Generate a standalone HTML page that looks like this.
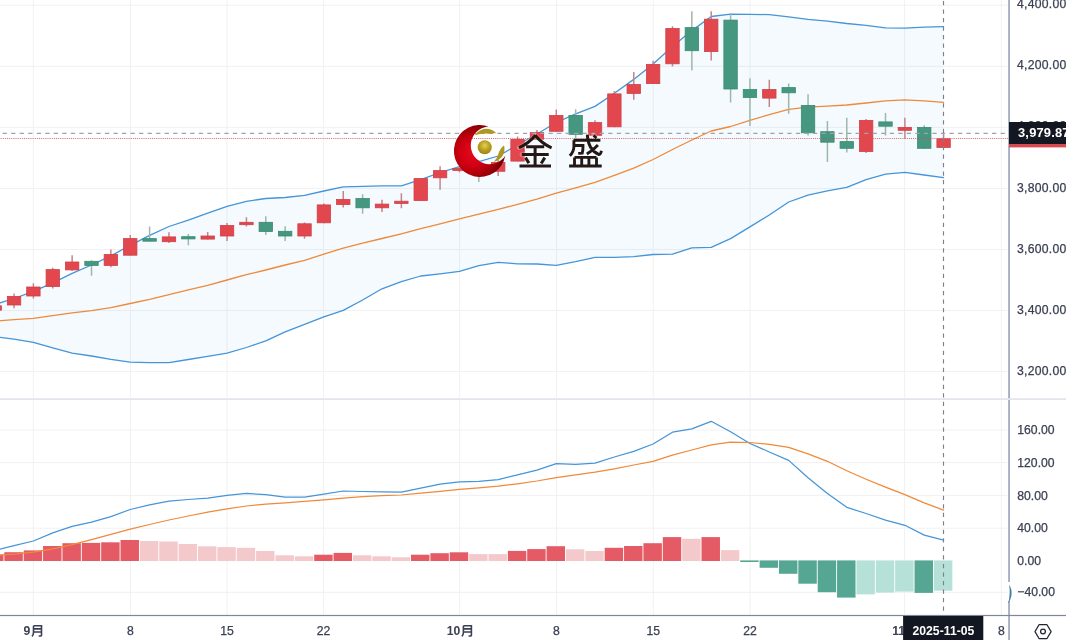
<!DOCTYPE html><html><head><meta charset="utf-8"><style>html,body{margin:0;padding:0;background:#fff;width:1066px;height:640px;overflow:hidden}#w{position:absolute;left:0;top:0;width:1066px;height:640px;overflow:hidden;background:#fff}</style></head><body><div id="w"><svg width="1082" height="656" viewBox="-8 -8 1082 656" style="display:block;position:absolute;left:-8px;top:-8px;filter:blur(0.55px)">
<defs><clipPath id="cm"><rect x="-8" y="-8" width="1016" height="406.3"/></clipPath><clipPath id="cl"><rect x="-8" y="400" width="1016" height="215"/></clipPath>
<radialGradient id="rg" gradientUnits="userSpaceOnUse" cx="473" cy="153" r="30"><stop offset="0" stop-color="#e60a1c"/><stop offset="0.45" stop-color="#cf0012"/><stop offset="0.8" stop-color="#a00008"/><stop offset="1" stop-color="#7a0005"/></radialGradient>
<radialGradient id="gg" cx="0.5" cy="0.38" r="0.62"><stop offset="0" stop-color="#e6d24c"/><stop offset="0.55" stop-color="#b9a022"/><stop offset="1" stop-color="#9a8418"/></radialGradient>
</defs>
<rect x="-8" y="-8" width="1082" height="656" fill="#fff"/>
<g stroke="#f1f1f3" stroke-width="1" shape-rendering="auto">
<path d="M33.4 -8V398M33.4 400V615"/>
<path d="M130.4 -8V398M130.4 400V615"/>
<path d="M227 -8V398M227 400V615"/>
<path d="M323.6 -8V398M323.6 400V615"/>
<path d="M459.7 -8V398M459.7 400V615"/>
<path d="M556.5 -8V398M556.5 400V615"/>
<path d="M653.2 -8V398M653.2 400V615"/>
<path d="M750.1 -8V398M750.1 400V615"/>
<path d="M904.6 -8V398M904.6 400V615"/>
<path d="M1001.4 -8V398M1001.4 400V615"/>
<path d="M-8 5.2H1007.5"/>
<path d="M-8 66.3H1007.5"/>
<path d="M-8 127.35H1007.5"/>
<path d="M-8 188.4H1007.5"/>
<path d="M-8 249.5H1007.5"/>
<path d="M-8 310.5H1007.5"/>
<path d="M-8 371.6H1007.5"/>
<path d="M-8 430H1007.5"/>
<path d="M-8 462.6H1007.5"/>
<path d="M-8 495.4H1007.5"/>
<path d="M-8 528.2H1007.5"/>
<path d="M-8 592.3H1007.5"/>
</g>
<g clip-path="url(#cm)">
<polygon points="-5.33,304.5 14.04,298.5 33.4,291.3 52.77,282.9 72.13,273.3 91.5,265 110.87,255.9 130.23,245.3 149.6,235.4 168.96,226.5 188.33,220.2 207.7,213.1 227.06,206.3 246.43,201.3 265.79,198.5 285.16,197.5 304.53,195.3 323.89,191 343.26,186.8 362.62,186.3 381.99,185.9 401.36,185.9 420.72,179.7 440.09,172.5 459.45,166.6 478.82,161.6 498.19,156 517.55,145 536.92,134 556.28,122.5 575.65,113.9 595.02,106.4 614.38,93.3 633.75,79.4 653.11,64.1 672.48,46.6 691.85,30.6 711.21,16.5 730.58,14.1 749.94,14.3 769.31,14.6 788.68,16.9 808.04,19.3 827.41,21.1 846.77,23.5 866.14,25.3 885.51,27.8 904.87,28.1 924.24,27.2 943.6,26.6 943.6,177.7 924.24,175 904.87,172.3 885.51,174.1 866.14,179.6 846.77,187.4 827.41,190.8 808.04,195.2 788.68,202 769.31,215 749.94,226.9 730.58,238.6 711.21,247.4 691.85,247.9 672.48,254.1 653.11,254.5 633.75,256.6 614.38,257.3 595.02,257.3 575.65,261.6 556.28,265.3 536.92,264 517.55,263.8 498.19,262.3 478.82,265.7 459.45,271.3 440.09,273.8 420.72,276 401.36,281.6 381.99,288.8 362.62,300 343.26,310.4 323.89,316.9 304.53,324.4 285.16,331.9 265.79,340.9 246.43,347.5 227.06,353.1 207.7,356.3 188.33,359.5 168.96,362.7 149.6,362.7 130.23,362.2 110.87,359.4 91.5,356 72.13,353.2 52.77,347.9 33.4,342.3 14.04,339.1 -5.33,336.7" fill="#2a96f0" fill-opacity="0.052"/>
<polyline points="-5.33,304.5 14.04,298.5 33.4,291.3 52.77,282.9 72.13,273.3 91.5,265 110.87,255.9 130.23,245.3 149.6,235.4 168.96,226.5 188.33,220.2 207.7,213.1 227.06,206.3 246.43,201.3 265.79,198.5 285.16,197.5 304.53,195.3 323.89,191 343.26,186.8 362.62,186.3 381.99,185.9 401.36,185.9 420.72,179.7 440.09,172.5 459.45,166.6 478.82,161.6 498.19,156 517.55,145 536.92,134 556.28,122.5 575.65,113.9 595.02,106.4 614.38,93.3 633.75,79.4 653.11,64.1 672.48,46.6 691.85,30.6 711.21,16.5 730.58,14.1 749.94,14.3 769.31,14.6 788.68,16.9 808.04,19.3 827.41,21.1 846.77,23.5 866.14,25.3 885.51,27.8 904.87,28.1 924.24,27.2 943.6,26.6" fill="none" stroke="#4595d8" stroke-width="1.3" stroke-linejoin="round" stroke-linecap="round"/>
<polyline points="-5.33,336.7 14.04,339.1 33.4,342.3 52.77,347.9 72.13,353.2 91.5,356 110.87,359.4 130.23,362.2 149.6,362.7 168.96,362.7 188.33,359.5 207.7,356.3 227.06,353.1 246.43,347.5 265.79,340.9 285.16,331.9 304.53,324.4 323.89,316.9 343.26,310.4 362.62,300 381.99,288.8 401.36,281.6 420.72,276 440.09,273.8 459.45,271.3 478.82,265.7 498.19,262.3 517.55,263.8 536.92,264 556.28,265.3 575.65,261.6 595.02,257.3 614.38,257.3 633.75,256.6 653.11,254.5 672.48,254.1 691.85,247.9 711.21,247.4 730.58,238.6 749.94,226.9 769.31,215 788.68,202 808.04,195.2 827.41,190.8 846.77,187.4 866.14,179.6 885.51,174.1 904.87,172.3 924.24,175 943.6,177.7" fill="none" stroke="#4595d8" stroke-width="1.3" stroke-linejoin="round" stroke-linecap="round"/>
<polyline points="-5.33,321 14.04,319.7 33.4,318.3 52.77,315.6 72.13,312.8 91.5,310.6 110.87,307.6 130.23,303.5 149.6,299.3 168.96,294.6 188.33,289.9 207.7,285.4 227.06,280 246.43,274.7 265.79,270 285.16,265 304.53,260.3 323.89,254.1 343.26,248.1 362.62,243.2 381.99,238.5 401.36,233.8 420.72,228.7 440.09,223.8 459.45,218.8 478.82,214.1 498.19,209.4 517.55,204.3 536.92,199.1 556.28,193.1 575.65,187.8 595.02,182.3 614.38,175.3 633.75,168.2 653.11,159.5 672.48,149.5 691.85,140 711.21,131 730.58,126.5 749.94,120.3 769.31,114.7 788.68,109.4 808.04,107.2 827.41,106.1 846.77,105 866.14,103 885.51,100.9 904.87,99.9 924.24,100.9 943.6,102.4" fill="none" stroke="#ee8a3a" stroke-width="1.3" stroke-linejoin="round" stroke-linecap="round"/>
<path d="M-5.33 303V312" stroke="#c4868b" stroke-width="1.5"/>
<path d="M14.04 293.5V308.2" stroke="#c4868b" stroke-width="1.5"/>
<path d="M33.4 283.2V298.4" stroke="#c4868b" stroke-width="1.5"/>
<path d="M52.77 267.8V288.5" stroke="#c4868b" stroke-width="1.5"/>
<path d="M72.13 255.3V271" stroke="#c4868b" stroke-width="1.5"/>
<path d="M91.5 260.3V275.7" stroke="#9db8a8" stroke-width="1.5"/>
<path d="M110.87 249.5V267.3" stroke="#c4868b" stroke-width="1.5"/>
<path d="M130.23 235V255.6" stroke="#c4868b" stroke-width="1.5"/>
<path d="M149.6 226.6V241.6" stroke="#9db8a8" stroke-width="1.5"/>
<path d="M168.96 232.2V243" stroke="#c4868b" stroke-width="1.5"/>
<path d="M188.33 234V245.3" stroke="#9db8a8" stroke-width="1.5"/>
<path d="M207.7 231.9V239.5" stroke="#c4868b" stroke-width="1.5"/>
<path d="M227.06 222.9V241" stroke="#c4868b" stroke-width="1.5"/>
<path d="M246.43 217.2V226.6" stroke="#c4868b" stroke-width="1.5"/>
<path d="M265.79 216.3V235" stroke="#9db8a8" stroke-width="1.5"/>
<path d="M285.16 226.2V241" stroke="#9db8a8" stroke-width="1.5"/>
<path d="M304.53 222.5V238.8" stroke="#c4868b" stroke-width="1.5"/>
<path d="M323.89 203.5V223.2" stroke="#c4868b" stroke-width="1.5"/>
<path d="M343.26 191V207.5" stroke="#c4868b" stroke-width="1.5"/>
<path d="M362.62 194.3V213.8" stroke="#9db8a8" stroke-width="1.5"/>
<path d="M381.99 199.8V212" stroke="#c4868b" stroke-width="1.5"/>
<path d="M401.36 193.2V208.3" stroke="#c4868b" stroke-width="1.5"/>
<path d="M420.72 178.2V200.9" stroke="#c4868b" stroke-width="1.5"/>
<path d="M440.09 166.2V189.7" stroke="#c4868b" stroke-width="1.5"/>
<path d="M459.45 166.5V172.2" stroke="#c4868b" stroke-width="1.5"/>
<path d="M478.82 160V182" stroke="#9db8a8" stroke-width="1.5"/>
<path d="M498.19 160V176" stroke="#c4868b" stroke-width="1.5"/>
<path d="M517.55 136.4V161.5" stroke="#c4868b" stroke-width="1.5"/>
<path d="M536.92 130V139.6" stroke="#c4868b" stroke-width="1.5"/>
<path d="M556.28 109.4V131.7" stroke="#c4868b" stroke-width="1.5"/>
<path d="M575.65 109.2V138.5" stroke="#9db8a8" stroke-width="1.5"/>
<path d="M595.02 120.3V135.7" stroke="#c4868b" stroke-width="1.5"/>
<path d="M614.38 91V127.2" stroke="#c4868b" stroke-width="1.5"/>
<path d="M633.75 71.9V99.7" stroke="#c4868b" stroke-width="1.5"/>
<path d="M653.11 60.8V84" stroke="#c4868b" stroke-width="1.5"/>
<path d="M672.48 26.3V66.6" stroke="#c4868b" stroke-width="1.5"/>
<path d="M691.85 11.3V70.4" stroke="#9db8a8" stroke-width="1.5"/>
<path d="M711.21 11.3V60.5" stroke="#c4868b" stroke-width="1.5"/>
<path d="M730.58 13.1V102.4" stroke="#9db8a8" stroke-width="1.5"/>
<path d="M749.94 78.3V125.9" stroke="#9db8a8" stroke-width="1.5"/>
<path d="M769.31 79.7V106.9" stroke="#c4868b" stroke-width="1.5"/>
<path d="M788.68 83.5V113.8" stroke="#9db8a8" stroke-width="1.5"/>
<path d="M808.04 94.2V135.6" stroke="#9db8a8" stroke-width="1.5"/>
<path d="M827.41 121V161.9" stroke="#9db8a8" stroke-width="1.5"/>
<path d="M846.77 117.8V152.5" stroke="#9db8a8" stroke-width="1.5"/>
<path d="M866.14 119.1V152.9" stroke="#c4868b" stroke-width="1.5"/>
<path d="M885.51 113.1V135.6" stroke="#9db8a8" stroke-width="1.5"/>
<path d="M904.87 117.8V138.8" stroke="#c4868b" stroke-width="1.5"/>
<path d="M924.24 125.3V148.7" stroke="#9db8a8" stroke-width="1.5"/>
<path d="M943.6 133.2V147.8" stroke="#c4868b" stroke-width="1.5"/>
<rect x="-12.03" y="305.8" width="13.4" height="4.4" fill="#e2474e" stroke="#cf4048" stroke-width="0.8"/>
<rect x="7.34" y="296.4" width="13.4" height="8.6" fill="#e2474e" stroke="#cf4048" stroke-width="0.8"/>
<rect x="26.7" y="287" width="13.4" height="9" fill="#e2474e" stroke="#cf4048" stroke-width="0.8"/>
<rect x="46.07" y="269.6" width="13.4" height="17" fill="#e2474e" stroke="#cf4048" stroke-width="0.8"/>
<rect x="65.43" y="262" width="13.4" height="7.9" fill="#e2474e" stroke="#cf4048" stroke-width="0.8"/>
<rect x="84.8" y="261.3" width="13.4" height="4.1" fill="#45977f" stroke="#3b8a73" stroke-width="0.8"/>
<rect x="104.17" y="254.5" width="13.4" height="10.9" fill="#e2474e" stroke="#cf4048" stroke-width="0.8"/>
<rect x="123.53" y="238.6" width="13.4" height="16.6" fill="#e2474e" stroke="#cf4048" stroke-width="0.8"/>
<rect x="142.9" y="238.6" width="13.4" height="2.6" fill="#45977f" stroke="#3b8a73" stroke-width="0.8"/>
<rect x="162.26" y="236.9" width="13.4" height="4.8" fill="#e2474e" stroke="#cf4048" stroke-width="0.8"/>
<rect x="181.63" y="236.7" width="13.4" height="2.2" fill="#45977f" stroke="#3b8a73" stroke-width="0.8"/>
<rect x="201" y="236" width="13.4" height="3.1" fill="#e2474e" stroke="#cf4048" stroke-width="0.8"/>
<rect x="220.36" y="225.5" width="13.4" height="10.5" fill="#e2474e" stroke="#cf4048" stroke-width="0.8"/>
<rect x="239.73" y="222.3" width="13.4" height="2.4" fill="#e2474e" stroke="#cf4048" stroke-width="0.8"/>
<rect x="259.09" y="222.3" width="13.4" height="9.2" fill="#45977f" stroke="#3b8a73" stroke-width="0.8"/>
<rect x="278.46" y="231.3" width="13.4" height="4.7" fill="#45977f" stroke="#3b8a73" stroke-width="0.8"/>
<rect x="297.83" y="223.8" width="13.4" height="12.2" fill="#e2474e" stroke="#cf4048" stroke-width="0.8"/>
<rect x="317.19" y="204.9" width="13.4" height="17.9" fill="#e2474e" stroke="#cf4048" stroke-width="0.8"/>
<rect x="336.56" y="199.4" width="13.4" height="5.2" fill="#e2474e" stroke="#cf4048" stroke-width="0.8"/>
<rect x="355.92" y="198.5" width="13.4" height="9.3" fill="#45977f" stroke="#3b8a73" stroke-width="0.8"/>
<rect x="375.29" y="204.1" width="13.4" height="3.7" fill="#e2474e" stroke="#cf4048" stroke-width="0.8"/>
<rect x="394.66" y="201.2" width="13.4" height="2.2" fill="#e2474e" stroke="#cf4048" stroke-width="0.8"/>
<rect x="414.02" y="178.6" width="13.4" height="21.9" fill="#e2474e" stroke="#cf4048" stroke-width="0.8"/>
<rect x="433.39" y="170.6" width="13.4" height="7.2" fill="#e2474e" stroke="#cf4048" stroke-width="0.8"/>
<rect x="452.75" y="168.5" width="13.4" height="1.9" fill="#e2474e" stroke="#cf4048" stroke-width="0.8"/>
<rect x="472.12" y="165.4" width="13.4" height="6.2" fill="#45977f" stroke="#3b8a73" stroke-width="0.8"/>
<rect x="491.49" y="162.4" width="13.4" height="8.9" fill="#e2474e" stroke="#cf4048" stroke-width="0.8"/>
<rect x="510.85" y="139.4" width="13.4" height="21.7" fill="#e2474e" stroke="#cf4048" stroke-width="0.8"/>
<rect x="530.22" y="132.6" width="13.4" height="6.6" fill="#e2474e" stroke="#cf4048" stroke-width="0.8"/>
<rect x="549.58" y="115.4" width="13.4" height="15.9" fill="#e2474e" stroke="#cf4048" stroke-width="0.8"/>
<rect x="568.95" y="115.4" width="13.4" height="18.9" fill="#45977f" stroke="#3b8a73" stroke-width="0.8"/>
<rect x="588.32" y="122.6" width="13.4" height="12.7" fill="#e2474e" stroke="#cf4048" stroke-width="0.8"/>
<rect x="607.68" y="93.9" width="13.4" height="32.9" fill="#e2474e" stroke="#cf4048" stroke-width="0.8"/>
<rect x="627.05" y="84.5" width="13.4" height="8.9" fill="#e2474e" stroke="#cf4048" stroke-width="0.8"/>
<rect x="646.41" y="64.4" width="13.4" height="19.2" fill="#e2474e" stroke="#cf4048" stroke-width="0.8"/>
<rect x="665.78" y="28.5" width="13.4" height="35.3" fill="#e2474e" stroke="#cf4048" stroke-width="0.8"/>
<rect x="685.15" y="27.6" width="13.4" height="23.1" fill="#45977f" stroke="#3b8a73" stroke-width="0.8"/>
<rect x="704.51" y="19.2" width="13.4" height="32.4" fill="#e2474e" stroke="#cf4048" stroke-width="0.8"/>
<rect x="723.88" y="20.1" width="13.4" height="68.9" fill="#45977f" stroke="#3b8a73" stroke-width="0.8"/>
<rect x="743.24" y="89.5" width="13.4" height="8" fill="#45977f" stroke="#3b8a73" stroke-width="0.8"/>
<rect x="762.61" y="89.5" width="13.4" height="8.6" fill="#e2474e" stroke="#cf4048" stroke-width="0.8"/>
<rect x="781.98" y="87.6" width="13.4" height="5.2" fill="#45977f" stroke="#3b8a73" stroke-width="0.8"/>
<rect x="801.34" y="105.4" width="13.4" height="27.4" fill="#45977f" stroke="#3b8a73" stroke-width="0.8"/>
<rect x="820.71" y="131.7" width="13.4" height="10.5" fill="#45977f" stroke="#3b8a73" stroke-width="0.8"/>
<rect x="840.07" y="141.6" width="13.4" height="6.7" fill="#45977f" stroke="#3b8a73" stroke-width="0.8"/>
<rect x="859.44" y="120.4" width="13.4" height="31.1" fill="#e2474e" stroke="#cf4048" stroke-width="0.8"/>
<rect x="878.81" y="121.9" width="13.4" height="4.3" fill="#45977f" stroke="#3b8a73" stroke-width="0.8"/>
<rect x="898.17" y="127.4" width="13.4" height="2.9" fill="#e2474e" stroke="#cf4048" stroke-width="0.8"/>
<rect x="917.54" y="127.4" width="13.4" height="20.9" fill="#45977f" stroke="#3b8a73" stroke-width="0.8"/>
<rect x="936.9" y="138.8" width="13.4" height="8.6" fill="#e2474e" stroke="#cf4048" stroke-width="0.8"/>
</g>
<g clip-path="url(#cl)">
<rect x="-15.03" y="554.7" width="18.45" height="6.3" fill="#e45b65"/>
<rect x="4.34" y="552.2" width="18.45" height="8.8" fill="#e45b65"/>
<rect x="23.7" y="550.4" width="18.45" height="10.6" fill="#e45b65"/>
<rect x="43.07" y="546" width="18.45" height="15" fill="#e45b65"/>
<rect x="62.43" y="543.2" width="18.45" height="17.8" fill="#e45b65"/>
<rect x="81.8" y="542.9" width="18.45" height="18.1" fill="#e45b65"/>
<rect x="101.17" y="542.3" width="18.45" height="18.7" fill="#e45b65"/>
<rect x="120.53" y="540" width="18.45" height="21" fill="#e45b65"/>
<rect x="139.9" y="541" width="18.45" height="20" fill="#f4c9cc"/>
<rect x="159.26" y="541.5" width="18.45" height="19.5" fill="#f4c9cc"/>
<rect x="178.63" y="544" width="18.45" height="17" fill="#f4c9cc"/>
<rect x="198" y="546.3" width="18.45" height="14.7" fill="#f4c9cc"/>
<rect x="217.36" y="547.1" width="18.45" height="13.9" fill="#f4c9cc"/>
<rect x="236.73" y="547.8" width="18.45" height="13.2" fill="#f4c9cc"/>
<rect x="256.09" y="551" width="18.45" height="10" fill="#f4c9cc"/>
<rect x="275.46" y="555.3" width="18.45" height="5.7" fill="#f4c9cc"/>
<rect x="294.83" y="556.3" width="18.45" height="4.7" fill="#f4c9cc"/>
<rect x="314.19" y="554.7" width="18.45" height="6.3" fill="#e45b65"/>
<rect x="333.56" y="552.9" width="18.45" height="8.1" fill="#e45b65"/>
<rect x="352.92" y="555.3" width="18.45" height="5.7" fill="#f4c9cc"/>
<rect x="372.29" y="556.3" width="18.45" height="4.7" fill="#f4c9cc"/>
<rect x="391.66" y="557.3" width="18.45" height="3.7" fill="#f4c9cc"/>
<rect x="411.02" y="554.7" width="18.45" height="6.3" fill="#e45b65"/>
<rect x="430.39" y="553.2" width="18.45" height="7.8" fill="#e45b65"/>
<rect x="449.75" y="552.3" width="18.45" height="8.7" fill="#e45b65"/>
<rect x="469.12" y="554.1" width="18.45" height="6.9" fill="#f4c9cc"/>
<rect x="488.49" y="554.1" width="18.45" height="6.9" fill="#f4c9cc"/>
<rect x="507.85" y="550.9" width="18.45" height="10.1" fill="#e45b65"/>
<rect x="527.22" y="549.1" width="18.45" height="11.9" fill="#e45b65"/>
<rect x="546.58" y="546.2" width="18.45" height="14.8" fill="#e45b65"/>
<rect x="565.95" y="549.3" width="18.45" height="11.7" fill="#f4c9cc"/>
<rect x="585.32" y="551" width="18.45" height="10" fill="#f4c9cc"/>
<rect x="604.68" y="547.8" width="18.45" height="13.2" fill="#e45b65"/>
<rect x="624.05" y="546" width="18.45" height="15" fill="#e45b65"/>
<rect x="643.41" y="543.2" width="18.45" height="17.8" fill="#e45b65"/>
<rect x="662.78" y="537.1" width="18.45" height="23.9" fill="#e45b65"/>
<rect x="682.15" y="538.8" width="18.45" height="22.2" fill="#f4c9cc"/>
<rect x="701.51" y="537.1" width="18.45" height="23.9" fill="#e45b65"/>
<rect x="720.88" y="550.1" width="18.45" height="10.9" fill="#f4c9cc"/>
<rect x="740.24" y="560.4" width="18.45" height="1.6" fill="#55a794"/>
<rect x="759.61" y="560.4" width="18.45" height="7.4" fill="#55a794"/>
<rect x="778.98" y="560.4" width="18.45" height="13.4" fill="#55a794"/>
<rect x="798.34" y="560.4" width="18.45" height="23.3" fill="#55a794"/>
<rect x="817.71" y="560.4" width="18.45" height="31.8" fill="#55a794"/>
<rect x="837.07" y="560.4" width="18.45" height="37.2" fill="#55a794"/>
<rect x="856.44" y="560.4" width="18.45" height="34" fill="#b6e1d9"/>
<rect x="875.81" y="560.4" width="18.45" height="32.2" fill="#b6e1d9"/>
<rect x="895.17" y="560.4" width="18.45" height="31.2" fill="#b6e1d9"/>
<rect x="914.54" y="560.4" width="18.45" height="32.5" fill="#55a794"/>
<rect x="933.9" y="560.4" width="18.45" height="30.3" fill="#b6e1d9"/>
<polyline points="-5.33,550.4 14.04,545.7 33.4,541 52.77,532.9 72.13,526.3 91.5,522.2 110.87,516.6 130.23,509.5 149.6,504.8 168.96,501.2 188.33,499.5 207.7,498.1 227.06,495.3 246.43,493.4 265.79,494.7 285.16,497.2 304.53,497.2 323.89,494.1 343.26,491 362.62,491.5 381.99,491.8 401.36,492.2 420.72,488.1 440.09,484.1 459.45,481.9 478.82,481.3 498.19,479.6 517.55,474.8 536.92,470.1 556.28,463.7 575.65,464.3 595.02,463.2 614.38,457 633.75,451.3 653.11,444 672.48,432.2 691.85,428.8 711.21,421.3 730.58,431.8 749.94,443.5 769.31,452 788.68,460.4 808.04,477.8 827.41,493.4 846.77,507.3 866.14,513.5 885.51,520.1 904.87,525.3 924.24,535.1 943.6,540.1" fill="none" stroke="#4595d8" stroke-width="1.25" stroke-linejoin="round" stroke-linecap="round"/>
<polyline points="-5.33,555.3 14.04,554.1 33.4,552.2 52.77,548.9 72.13,544.7 91.5,539.7 110.87,534.4 130.23,529.2 149.6,524.5 168.96,520 188.33,516 207.7,512.2 227.06,508.8 246.43,506 265.79,504.1 285.16,502.8 304.53,501.3 323.89,499.8 343.26,498.1 362.62,496.6 381.99,495.6 401.36,495 420.72,493.2 440.09,491.3 459.45,489.4 478.82,487.9 498.19,486.2 517.55,483.8 536.92,481 556.28,477.6 575.65,474.9 595.02,472.2 614.38,468.8 633.75,465 653.11,461.3 672.48,455.1 691.85,450 711.21,444.8 730.58,442.1 749.94,442.5 769.31,444.4 788.68,447.4 808.04,453.8 827.41,461.3 846.77,470.7 866.14,479.2 885.51,487.2 904.87,494.7 924.24,502.8 943.6,510.1" fill="none" stroke="#ee8a3a" stroke-width="1.25" stroke-linejoin="round" stroke-linecap="round"/>
</g>
<rect x="-8" y="398.3" width="1082" height="1.6" fill="#e0e3eb"/>
<path d="M-7.928 138.5H1008" stroke="#d24a52" stroke-width="1.05" stroke-dasharray="1.066 1.066" opacity="0.8"/>
<path d="M-5.93 133.4H1008" stroke="#9fa2ab" stroke-width="1.1" stroke-dasharray="4.26 4.27"/>
<path d="M943.5 -7.63V615" stroke="#7d808a" stroke-width="1.15" stroke-dasharray="4.26 4.27"/>
<rect x="1008.1" y="-8" width="1.9" height="406.3" fill="#a9afc3"/>
<rect x="1008.1" y="400" width="1.9" height="182" fill="#a9afc3"/>
<rect x="1008.1" y="601" width="1.9" height="47" fill="#a9afc3"/>
<path d="M1009.2 584.5C1012.6 590 1012.6 597 1008.2 603.5C1010 597 1010 590 1009.2 584.5Z" fill="#467ba5"/>
<rect x="-8" y="614.9" width="1082" height="1.2" fill="#7f869b"/>
<g font-family="Liberation Sans, sans-serif" font-size="12.2" fill="#3b4052" stroke="#3b4052" stroke-width="0.25">
<text x="1017" y="8.3" textLength="49.2">4,400.00</text>
<text x="1017" y="69.4" textLength="49.2">4,200.00</text>
<text x="1017" y="130.45" textLength="49.2">4,000.00</text>
<text x="1017" y="191.5" textLength="49.2">3,800.00</text>
<text x="1017" y="252.6" textLength="49.2">3,600.00</text>
<text x="1017" y="313.6" textLength="49.2">3,400.00</text>
<text x="1017" y="374.7" textLength="49.2">3,200.00</text>
<text x="1017.3" y="434.1">160.00</text>
<text x="1017.3" y="466.7">120.00</text>
<text x="1017.3" y="499.5">80.00</text>
<text x="1017.3" y="532.3">40.00</text>
<text x="1017.3" y="565.1">0.00</text>
<text x="1017.3" y="596.4">−40.00</text>
<text x="130.4" y="635.2" text-anchor="middle">8</text>
<text x="227" y="635.2" text-anchor="middle">15</text>
<text x="323.6" y="635.2" text-anchor="middle">22</text>
<text x="556.5" y="635.2" text-anchor="middle">8</text>
<text x="653.2" y="635.2" text-anchor="middle">15</text>
<text x="750.1" y="635.2" text-anchor="middle">22</text>
<text x="1001.4" y="635.2" text-anchor="middle">8</text>
</g>
<g font-family="Liberation Sans, sans-serif" font-size="12.2" font-weight="bold" fill="#3b4052">
<text x="23.6" y="635.2">9</text>
<text x="446.8" y="635.2">10</text>
<text x="892.2" y="635.2">11</text>
</g>
<path d="M33.5 625.8V632.5Q33.5 635.2 31.9 636.4M33.5 625.8H41.5V635.3Q41.5 636.2 38.7 636M33.5 628.9H41.5M33.5 632H41.5" fill="none" stroke="#3b4052" stroke-width="1.6" stroke-linejoin="miter"/>
<path d="M463.4 625.8V632.5Q463.4 635.2 461.8 636.4M463.4 625.8H471.4V635.3Q471.4 636.2 468.6 636M463.4 628.9H471.4M463.4 632H471.4" fill="none" stroke="#3b4052" stroke-width="1.6" stroke-linejoin="miter"/>
<rect x="903.1" y="616" width="80.2" height="32" fill="#131722"/>
<text x="943.4" y="635.3" text-anchor="middle" font-family="Liberation Sans, sans-serif" font-size="12.2" font-weight="bold" fill="#fff" textLength="62">2025-11-05</text>
<rect x="1009" y="127.5" width="65" height="19.9" fill="#d84a52"/>
<rect x="1009" y="122" width="65" height="22" fill="#131722"/>
<text x="1018" y="136.8" font-family="Liberation Sans, sans-serif" font-size="12.9" font-weight="bold" fill="#fff" textLength="51.5">3,979.87</text>
<g fill="none" stroke="#23262f" stroke-width="1.25"><path d="M1035 631.6L1039 624.7H1047L1051.1 631.6L1047 638.5H1039Z" stroke-linejoin="round"/><circle cx="1043" cy="631.6" r="2.4"/></g>
<path d="M488.6 126.6A25.9 25.9 0 1 0 505.3 155.7A18.8 18.8 0 1 1 488.6 126.6Z" fill="url(#rg)"/>
<circle cx="484.7" cy="147.2" r="7" fill="url(#gg)"/>
<path d="M474.6 135.3Q479.5 129 486 128.7Q492.6 128.9 496.1 133Q489 134 485.5 133.6Q480 133.5 474.6 135.3Z" fill="#ad981f"/>
<path d="M504 145.6Q505.6 151 502.6 155.8Q499.2 160.8 493.7 162Q497.2 158.5 498.4 154Q499.6 149 504 145.6Z" fill="#ad981f"/>
<path d="M535.4 135.2Q529 143.2 519 147.6M535.2 135.2Q541.5 143.2 551.6 147.8M526.1 146.7H544.2M521.8 154.6H548.7M535.1 146.7V166M525.5 157.6L528.9 163.1M544.8 157.6L541.2 163.5M519.5 166H551 M573.5 140.2H600.4M573.9 140.2V146.4Q573.8 151.6 569.8 155.8M574.1 145.5H583Q583.2 150 582.2 153.2L578.2 153.4M587.3 134.6Q588 150 599 154.6Q600.8 154.4 601.4 150.8M597.9 145Q593 150.5 586.8 154.1M593.5 135.5L596.5 138M574.5 157.4H596.5M574.5 157.4V166M596.5 157.4V166M581.7 157.4V166M588.9 157.4V166M569.1 166H601.7" fill="none" stroke="#fff" stroke-opacity="0.28" stroke-width="4.6" stroke-linecap="round" stroke-linejoin="round"/>
<path d="M535.4 135.2Q529 143.2 519 147.6M535.2 135.2Q541.5 143.2 551.6 147.8M526.1 146.7H544.2M521.8 154.6H548.7M535.1 146.7V166M525.5 157.6L528.9 163.1M544.8 157.6L541.2 163.5M519.5 166H551" fill="none" stroke="#231815" stroke-width="3.0" stroke-linecap="butt"/>
<path d="M573.5 140.2H600.4M573.9 140.2V146.4Q573.8 151.6 569.8 155.8M574.1 145.5H583Q583.2 150 582.2 153.2L578.2 153.4M587.3 134.6Q588 150 599 154.6Q600.8 154.4 601.4 150.8M597.9 145Q593 150.5 586.8 154.1M593.5 135.5L596.5 138M574.5 157.4H596.5M574.5 157.4V166M596.5 157.4V166M581.7 157.4V166M588.9 157.4V166M569.1 166H601.7" fill="none" stroke="#231815" stroke-width="2.85" stroke-linecap="butt" stroke-linejoin="miter"/>
</svg></div></body></html>
